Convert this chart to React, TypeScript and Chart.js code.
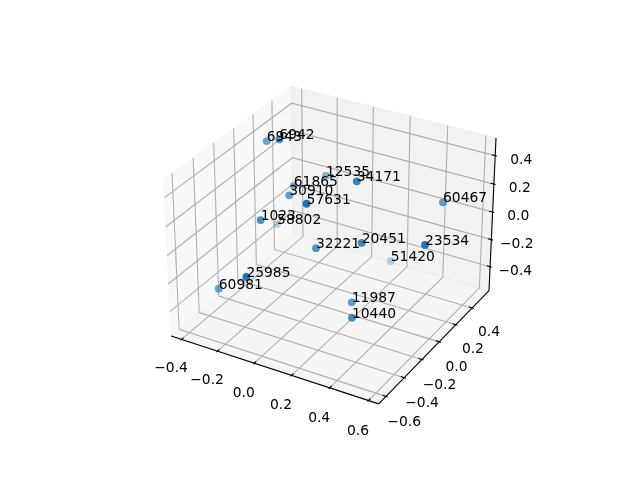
import React, { useEffect, useRef } from "react";
import { Chart, registerables } from "chart.js";
Chart.register(...registerables);

const pointLabels = ["6943","6942","12535","34171","61865","30910","57631","1023","58802","32221","25985","60981","60467","20451","23534","51420","11987","10440"];
const xValues = [-0.266,-0.153,-0.047,0.241,-0.146,-0.091,0.110,-0.135,-0.273,0.097,-0.042,-0.287,0.533,0.311,0.617,0.245,0.283,0.339];
const yValues = [-0.019,-0.101,0.180,-0.072,0.028,-0.125,-0.335,-0.337,0.087,-0.215,-0.658,-0.495,0.273,-0.160,-0.119,0.315,-0.206,-0.319];
const zValues = [0.509,0.601,0.240,0.437,0.213,0.249,0.379,0.177,-0.140,-0.001,0.002,-0.277,0.212,0.087,0.167,-0.343,-0.318,-0.335];

const xTicks = [-0.4,-0.2,0,0.2,0.4,0.6];
const yTicks = [-0.6,-0.4,-0.2,0,0.2,0.4];
const zTicks = [-0.4,-0.2,0,0.2,0.4];
const xLim = [-0.436,0.63];
const yLim = [-0.653,0.587];
const zLim = [-0.557,0.5];

const norm = Math.hypot(4,4,3);
const box = [4,4,3].map(a=>a*1.8294640721620434/norm);
const e = 30*Math.PI/180, az = -60*Math.PI/180;
const w = [Math.cos(e)*Math.cos(az),Math.cos(e)*Math.sin(az),Math.sin(e)];
const un = Math.hypot(w[0],w[1]);
const u = [-w[1]/un,w[0]/un,0];
const v = [w[1]*u[2]-w[2]*u[1],w[2]*u[0]-w[0]*u[2],w[0]*u[1]-w[1]*u[0]];
const dot=(a:number[],b:number[])=>a[0]*b[0]+a[1]*b[1]+a[2]*b[2];
function project(x:number,y:number,z:number){
  const r=[(x-xLim[0])/(xLim[1]-xLim[0])*box[0]-box[0]/2,(y-yLim[0])/(yLim[1]-yLim[0])*box[1]-box[1]/2,(z-zLim[0])/(zLim[1]-zLim[0])*box[2]-box[2]/2];
  const d=dot(w,r);
  return {x:dot(u,r)/(10-d),y:dot(v,r)/(10-d),d};
}
const toX=(s:number)=>-0.095+(s-143.2)/369.6*0.185;
const toY=(s:number)=>-0.095+(427.2-s)/369.6*0.185;

const ex=(l:number[])=>{const p=(l[1]-l[0])/48;return [l[0]-p,l[1]+p];};
const X=ex(xLim),Y=ex(yLim),Z=ex(zLim);
const xR=xLim[1]-xLim[0],yR=yLim[1]-yLim[0],zR=zLim[1]-zLim[0];
const dx=xR/12,dy=yR/12;
const fmt=(t:number)=>(t<0?"\u2212":"")+Math.abs(t).toFixed(1);

function line(pts:number[][],color:string,width:number,fill?:string){
  return {type:"line",data:pts.map(p=>{const q=project(p[0],p[1],p[2]);return {x:q.x,y:q.y};}),borderColor:color,borderWidth:width,pointRadius:0,tension:0,fill:fill?"shape":false,backgroundColor:fill||"transparent",parsing:false,borderCapStyle:"butt"};
}

export default function App(){
  const ref=useRef<HTMLCanvasElement>(null);
  useEffect(()=>{
    document.body.style.margin="0";
    const ds:any[]=[];
    ds.push(line([[X[0],Y[0],Z[0]],[X[1],Y[0],Z[0]],[X[1],Y[1],Z[0]],[X[0],Y[1],Z[0]],[X[0],Y[0],Z[0]]],"rgba(236,236,236,0.5)",1,"rgba(236,236,236,0.5)"));
    ds.push(line([[X[0],Y[0],Z[0]],[X[0],Y[1],Z[0]],[X[0],Y[1],Z[1]],[X[0],Y[0],Z[1]],[X[0],Y[0],Z[0]]],"rgba(242,242,242,0.5)",1,"rgba(242,242,242,0.5)"));
    ds.push(line([[X[0],Y[1],Z[0]],[X[1],Y[1],Z[0]],[X[1],Y[1],Z[1]],[X[0],Y[1],Z[1]],[X[0],Y[1],Z[0]]],"rgba(230,230,230,0.5)",1,"rgba(230,230,230,0.5)"));
    const grid="#b0b0b0",gw=1.11;
    xTicks.forEach(t=>ds.push(line([[t,Y[0],Z[0]],[t,Y[1],Z[0]],[t,Y[1],Z[1]]],grid,gw)));
    yTicks.forEach(t=>ds.push(line([[X[1],t,Z[0]],[X[0],t,Z[0]],[X[0],t,Z[1]]],grid,gw)));
    zTicks.forEach(t=>ds.push(line([[X[0],Y[0],t],[X[0],Y[1],t],[X[1],Y[1],t]],grid,gw)));
    ds.push(line([[X[0],Y[0],Z[0]],[X[1],Y[0],Z[0]]],"#000",gw));
    ds.push(line([[X[1],Y[0],Z[0]],[X[1],Y[1],Z[0]]],"#000",gw));
    ds.push(line([[X[1],Y[1],Z[0]],[X[1],Y[1],Z[1]]],"#000",gw));
    xTicks.forEach(t=>ds.push(line([[t,Y[0]-0.1*dy,Z[0]],[t,Y[0]+0.2*dy,Z[0]]],"#000",gw)));
    yTicks.forEach(t=>ds.push(line([[X[1]+0.1*dx,t,Z[0]],[X[1]-0.2*dx,t,Z[0]]],"#000",gw)));
    zTicks.forEach(t=>ds.push(line([[X[1]+0.1*dx,Y[1],t],[X[1]-0.2*dx,Y[1],t]],"#000",gw)));
    const projected=xValues.map((x,i)=>project(x,yValues[i],zValues[i]));
    const depths=projected.map(q=>q.d);
    const dMin=Math.min(...depths),dMax=Math.max(...depths);
    const sorted=[...projected].sort((a,b)=>a.d-b.d);
    const colors=sorted.map(q=>`rgba(31,119,180,${1-0.7*(dMax-q.d)/(dMax-dMin)})`);
    ds.push({type:"scatter",data:sorted.map(q=>({x:q.x,y:q.y})),pointRadius:3.9,pointBorderWidth:0,pointBackgroundColor:colors,pointBorderColor:colors,showLine:false,parsing:false});
    ds.forEach((d,i)=>{d.order=ds.length-i;});
    const textPlugin={id:"text3d",afterDatasetsDraw(c:any){
      const ctx=c.ctx;const sx=c.scales.x,sy=c.scales.y;
      ctx.save();ctx.fillStyle="#000";ctx.font='13.889px "DejaVu Sans"';
      const put=(q:any,s:string,al:any,bl:any,shift=0)=>{ctx.textAlign=al;ctx.textBaseline=bl;ctx.fillText(s,sx.getPixelForValue(q.x),sy.getPixelForValue(q.y)+shift);};
      xTicks.forEach(t=>put(project(t,Y[0]-0.088*yR,Z[0]-0.126*zR),fmt(t),"center","middle",1.5));
      yTicks.forEach(t=>put(project(X[1]+0.088*xR,t,Z[0]-0.126*zR),fmt(t),"center","middle",1.5));
      zTicks.forEach(t=>put(project(X[1]+0.106*xR,Y[1]+0.042*yR,t),fmt(t),"center","middle",2.5));
      projected.forEach((q,i)=>put(q,pointLabels[i],"left","alphabetic"));
      ctx.restore();
    }};
    const chart=new Chart(ref.current as any,{type:"scatter",data:{datasets:ds},plugins:[textPlugin],options:{animation:false,responsive:false,layout:{padding:0,autoPadding:false},
      plugins:{legend:{display:false},tooltip:{enabled:false}},
      scales:{x:{type:"linear",display:false,min:toX(0),max:toX(640)},y:{type:"linear",display:false,min:toY(480),max:toY(0)}},
      clip:false as any}} as any);
    return ()=>chart.destroy();
  },[]);
  return <canvas ref={ref} width={640} height={480} style={{display:"block"}}/>;
}
